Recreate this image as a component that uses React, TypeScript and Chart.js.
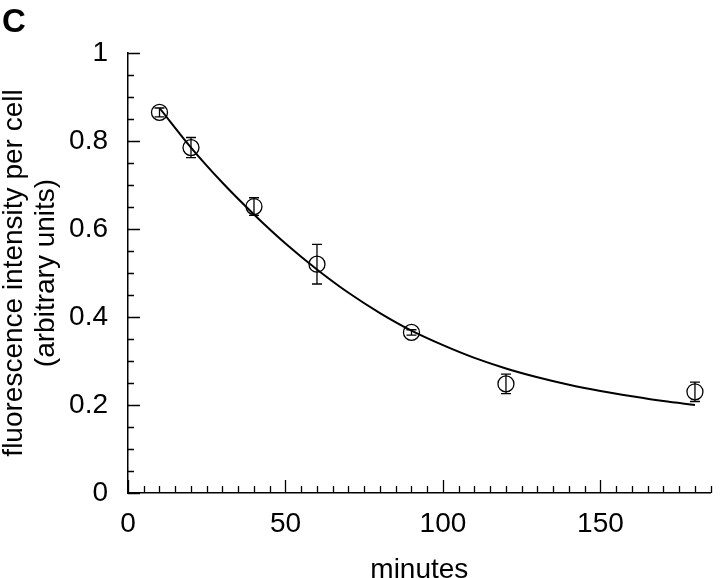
import React, { useEffect, useRef } from "react";
import { Chart, registerables } from "chart.js";

Chart.register(...registerables);

// Measured points (minutes, intensity, error)
const xMinutes = [10, 20, 40, 60, 90, 120, 180];
const intensity = [0.865, 0.785, 0.651, 0.52, 0.365, 0.248, 0.23];
const intensityErr = [0.01, 0.023, 0.02, 0.045, 0.006, 0.022, 0.022];

// Fitted curve
const fitMinutes = [10, 20, 30, 40, 50, 60, 70, 80, 90, 100, 110, 120, 130, 140, 150, 160, 170, 180];
const fitIntensity = [0.875, 0.785, 0.705, 0.633, 0.567, 0.508, 0.455, 0.409, 0.369, 0.336, 0.307, 0.283, 0.263, 0.246, 0.232, 0.22, 0.209, 0.2];

const xTickStep = 50;
const xMinorStep = 5;
const yTickStep = 0.2;
const yMinorStep = 0.05;

const FONT = "'Liberation Sans', Arial, Helvetica, sans-serif";

const errorBarPlugin = {
  id: "errorBars",
  afterDatasetsDraw(chart: any) {
    const { ctx, scales } = chart;
    const xs = scales.x;
    const ys = scales.y;
    ctx.save();
    ctx.strokeStyle = "#000";
    ctx.lineWidth = 1.3;
    for (let i = 0; i < xMinutes.length; i++) {
      const px = xs.getPixelForValue(xMinutes[i]);
      const top = ys.getPixelForValue(intensity[i] + intensityErr[i]);
      const bot = ys.getPixelForValue(intensity[i] - intensityErr[i]);
      ctx.beginPath();
      ctx.moveTo(px, top);
      ctx.lineTo(px, bot);
      ctx.moveTo(px - 5, top);
      ctx.lineTo(px + 5, top);
      ctx.moveTo(px - 5, bot);
      ctx.lineTo(px + 5, bot);
      ctx.stroke();
    }
    ctx.restore();
  },
};

const tickPlugin = {
  id: "inwardTicks",
  afterDraw(chart: any) {
    const { ctx, scales, chartArea } = chart;
    const xs = scales.x;
    const ys = scales.y;
    ctx.save();
    ctx.strokeStyle = "#000";
    ctx.lineWidth = 1.3;
    ctx.beginPath();
    const nx = Math.round((xs.max - xs.min) / xMinorStep);
    for (let k = 0; k <= nx; k++) {
      const v = xs.min + k * xMinorStep;
      const px = Math.round(xs.getPixelForValue(v)) + 0.5;
      const major = Math.abs(v / xTickStep - Math.round(v / xTickStep)) < 1e-6;
      const len = major ? 13 : 7;
      ctx.moveTo(px, chartArea.bottom);
      ctx.lineTo(px, chartArea.bottom - len);
    }
    const ny = Math.round((ys.max - ys.min) / yMinorStep);
    for (let k = 0; k <= ny; k++) {
      const v = ys.min + k * yMinorStep;
      const py = Math.round(ys.getPixelForValue(v)) + 0.5;
      const major = Math.abs(v / yTickStep - Math.round(v / yTickStep)) < 1e-6;
      const len = major ? 12 : 6;
      ctx.moveTo(chartArea.left, py);
      ctx.lineTo(chartArea.left + len, py);
    }
    ctx.stroke();
    // panel letter
    ctx.fillStyle = "#000";
    ctx.font = `bold 33px ${FONT}`;
    ctx.textAlign = "left";
    ctx.textBaseline = "alphabetic";
    ctx.fillText("C", 2, 32);
    ctx.restore();
  },
};

export default function App() {
  const ref = useRef<HTMLCanvasElement | null>(null);
  useEffect(() => {
    if (!ref.current) return;
    const chart = new Chart(ref.current, {
      type: "scatter",
      data: {
        datasets: [
          {
            label: "fit",
            data: fitMinutes.map((x, i) => ({ x, y: fitIntensity[i] })),
            showLine: true,
            borderColor: "#000",
            borderWidth: 2,
            pointRadius: 0,
            tension: 0.4,
            cubicInterpolationMode: "monotone",
            fill: false,
          },
          {
            label: "data",
            data: xMinutes.map((x, i) => ({ x, y: intensity[i] })),
            showLine: false,
            pointStyle: "circle",
            pointRadius: 8,
            pointBorderWidth: 1.3,
            pointBorderColor: "#000",
            pointBackgroundColor: "rgba(0,0,0,0)",
          },
        ],
      },
      options: {
        animation: false,
        responsive: true,
        maintainAspectRatio: false,
        layout: { padding: { top: 53, right: 4, left: 0, bottom: 0 } },
        plugins: {
          legend: { display: false },
          tooltip: { enabled: false },
          title: { display: false },
        },
        scales: {
          x: {
            type: "linear",
            min: 0,
            max: 185,
            grid: { display: false, drawTicks: false },
            border: { display: true, color: "#000", width: 1.5 },
            ticks: {
              stepSize: xTickStep,
              includeBounds: false,
              color: "#000",
              padding: 14,
              font: { family: FONT, size: 28 },
              maxRotation: 0,
            },
            title: {
              display: true,
              text: "minutes",
              color: "#000",
              font: { family: FONT, size: 28, lineHeight: 1.2 },
              padding: { top: 0, bottom: -9 },
            },
            afterFit(scale: any) {
              scale.height = 85;
            },
          },
          y: {
            type: "linear",
            min: 0,
            max: 1,
            grid: { display: false, drawTicks: false },
            border: { display: true, color: "#000", width: 1.5 },
            ticks: {
              stepSize: yTickStep,
              color: "#000",
              padding: 20,
              font: { family: FONT, size: 28 },
              callback: (v: any) => String(Number(Number(v).toFixed(1))),
            },
            title: {
              display: true,
              text: ["fluorescence intensity per cell", "(arbitrary units)"],
              color: "#000",
              font: { family: FONT, size: 28, lineHeight: 1.15 },
              padding: { top: -2, bottom: 0 },
            },
            afterFit(scale: any) {
              scale.width = 128;
            },
          },
        },
      },
      plugins: [errorBarPlugin, tickPlugin],
    });
    return () => chart.destroy();
  }, []);
  return (
    <div style={{ position: "fixed", left: 0, top: 0, width: 720, height: 578, background: "#fff" }}>
      <canvas ref={ref} />
    </div>
  );
}
